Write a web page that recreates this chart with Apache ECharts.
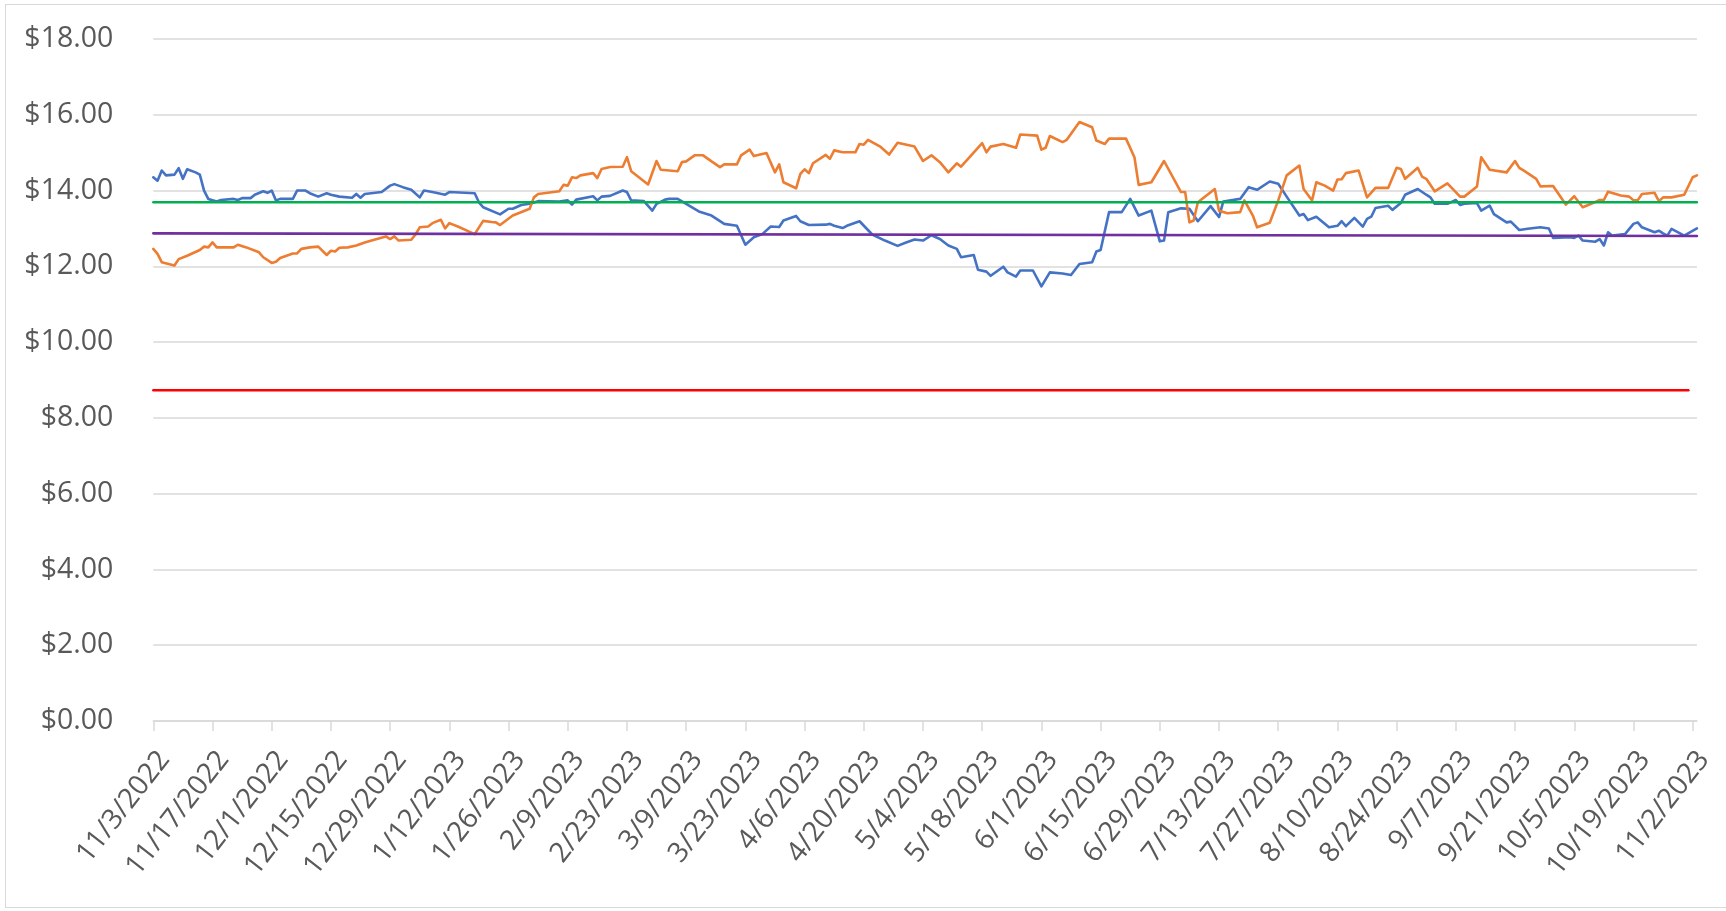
<!DOCTYPE html>
<html>
<head>
<meta charset="utf-8">
<script src="https://cdn.jsdelivr.net/npm/echarts@6/dist/echarts.min.js"></script>
<style>
  html, body { margin: 0; padding: 0; background: #fff; overflow: hidden; }
  #chart { width: 1726px; height: 911px; }
  #frame { position: absolute; left: 5px; top: 4px; width: 1740px; height: 904px;
           border: 1.5px solid #d9d9d9; box-sizing: border-box; pointer-events: none; }
</style>
</head>
<body>
<div id="chart"></div>
<div id="frame"></div>
<script>
// x values are days since 11/3/2022
const START_DATE = [2022, 11, 3];

const xTickLabels = ['11/3/2022','11/17/2022','12/1/2022','12/15/2022','12/29/2022','1/12/2023','1/26/2023',
  '2/9/2023','2/23/2023','3/9/2023','3/23/2023','4/6/2023','4/20/2023','5/4/2023','5/18/2023','6/1/2023',
  '6/15/2023','6/29/2023','7/13/2023','7/27/2023','8/10/2023','8/24/2023','9/7/2023','9/21/2023',
  '10/5/2023','10/19/2023','11/2/2023'];

const yTicks = [0, 2, 4, 6, 8, 10, 12, 14, 16, 18];

// Blue series: [day, price]
const blueSeries = [[0,14.35],[1,14.26],[2,14.53],[3,14.40],[5,14.42],[6,14.59],[7,14.31],[8,14.56],[10,14.48],[11,14.42],[12,14.0],[13,13.78],[15,13.71],[16,13.75],[19,13.78],[20,13.75],[21,13.80],[23,13.80],[24,13.89],[26,13.98],[27,13.94],[28,14.0],[29,13.74],[30,13.78],[33,13.78],[34,14.0],[36,14.0],[37,13.93],[39,13.84],[41,13.93],[42,13.89],[44,13.84],[47,13.81],[48,13.91],[49,13.81],[50,13.91],[54,13.96],[56,14.13],[57,14.17],[59,14.09],[61,14.02],[63,13.82],[64,14.0],[66,13.96],[69,13.89],[70,13.96],[76,13.93],[77,13.69],[78,13.56],[82,13.37],[84,13.52],[85,13.52],[87,13.62],[89,13.65],[91,13.72],[96,13.71],[98,13.74],[99,13.63],[100,13.76],[104,13.85],[105,13.74],[106,13.84],[108,13.86],[111,14.0],[112,13.96],[113,13.74],[116,13.72],[118,13.47],[119,13.65],[121,13.76],[122,13.78],[124,13.78],[126,13.65],[129,13.45],[132,13.34],[135,13.12],[138,13.07],[140,12.57],[142,12.77],[144,12.85],[146,13.05],[148,13.04],[149,13.21],[152,13.33],[153,13.19],[155,13.09],[159,13.10],[160,13.12],[161,13.07],[163,13.01],[164,13.07],[167,13.19],[170,12.84],[173,12.68],[176,12.54],[178,12.63],[180,12.71],[182,12.68],[184,12.82],[186,12.72],[188,12.55],[190,12.46],[191,12.24],[194,12.30],[195,11.91],[197,11.86],[198,11.75],[201,11.99],[202,11.84],[204,11.73],[205,11.89],[208,11.89],[210,11.47],[212,11.84],[215,11.81],[217,11.77],[219,12.06],[222,12.11],[223,12.39],[224,12.43],[226,13.43],[229,13.43],[231,13.78],[233,13.34],[236,13.47],[238,12.66],[239,12.68],[240,13.43],[243,13.53],[245,13.52],[247,13.19],[250,13.59],[252,13.30],[253,13.71],[257,13.78],[259,14.09],[261,14.02],[264,14.24],[266,14.18],[268,13.84],[271,13.34],[272,13.38],[273,13.22],[275,13.31],[278,13.03],[280,13.07],[281,13.19],[282,13.06],[284,13.28],[286,13.05],[287,13.25],[288,13.31],[289,13.54],[292,13.60],[293,13.49],[295,13.67],[296,13.89],[299,14.04],[301,13.89],[302,13.82],[303,13.65],[306,13.65],[308,13.75],[309,13.62],[310,13.65],[313,13.67],[314,13.47],[316,13.60],[317,13.38],[320,13.16],[321,13.18],[323,12.96],[325,12.99],[328,13.03],[330,13.0],[331,12.75],[335,12.77],[336,12.75],[337,12.81],[338,12.68],[341,12.65],[342,12.72],[343,12.55],[344,12.90],[345,12.81],[348,12.85],[350,13.12],[351,13.16],[352,13.03],[355,12.90],[356,12.94],[357,12.87],[358,12.81],[359,12.99],[362,12.81],[365,13.0]];

// Orange series: [day, price]
const orangeSeries = [[0,12.46],[1,12.33],[2,12.11],[5,12.02],[6,12.19],[8,12.28],[11,12.43],[12,12.52],[13,12.50],[14,12.63],[15,12.50],[19,12.50],[20,12.57],[22,12.50],[25,12.37],[26,12.24],[28,12.09],[29,12.12],[30,12.22],[33,12.34],[34,12.34],[35,12.46],[37,12.50],[39,12.52],[41,12.30],[42,12.41],[43,12.39],[44,12.49],[46,12.50],[48,12.55],[50,12.63],[51,12.66],[55,12.79],[56,12.72],[57,12.79],[58,12.68],[61,12.70],[62,12.84],[63,13.03],[65,13.05],[66,13.14],[68,13.23],[69,13.0],[70,13.14],[72,13.05],[76,12.85],[78,13.20],[80,13.17],[81,13.16],[82,13.09],[85,13.34],[89,13.52],[90,13.82],[91,13.91],[96,13.98],[97,14.15],[98,14.13],[99,14.35],[100,14.33],[101,14.40],[103,14.44],[104,14.46],[105,14.33],[106,14.57],[108,14.62],[111,14.63],[112,14.88],[113,14.51],[117,14.16],[119,14.78],[120,14.55],[122,14.53],[124,14.51],[125,14.75],[126,14.77],[128,14.93],[130,14.93],[132,14.77],[134,14.62],[135,14.69],[138,14.69],[139,14.93],[141,15.08],[142,14.91],[145,14.99],[147,14.48],[148,14.69],[149,14.22],[152,14.06],[153,14.44],[154,14.56],[155,14.46],[156,14.72],[159,14.94],[160,14.84],[161,15.06],[163,15.01],[166,15.01],[167,15.23],[168,15.21],[169,15.34],[172,15.15],[174,14.95],[176,15.26],[180,15.16],[182,14.78],[184,14.93],[186,14.75],[188,14.48],[190,14.72],[191,14.63],[196,15.25],[197,15.01],[198,15.16],[201,15.23],[204,15.13],[205,15.48],[209,15.45],[210,15.08],[211,15.13],[212,15.44],[215,15.28],[216,15.34],[219,15.81],[222,15.67],[223,15.32],[225,15.23],[226,15.37],[230,15.37],[232,14.88],[233,14.15],[236,14.22],[239,14.78],[243,13.96],[244,13.96],[245,13.16],[246,13.21],[247,13.69],[251,14.04],[252,13.47],[254,13.40],[257,13.43],[258,13.74],[260,13.34],[261,13.03],[264,13.15],[266,13.74],[268,14.40],[271,14.66],[272,14.04],[274,13.74],[275,14.22],[277,14.13],[279,14.0],[280,14.29],[281,14.30],[282,14.46],[285,14.53],[287,13.82],[289,14.07],[292,14.07],[294,14.60],[295,14.57],[296,14.31],[299,14.60],[300,14.37],[301,14.31],[303,13.98],[306,14.19],[309,13.84],[310,13.84],[313,14.11],[314,14.88],[316,14.55],[320,14.48],[322,14.78],[323,14.60],[324,14.53],[327,14.31],[328,14.11],[331,14.12],[334,13.63],[336,13.85],[338,13.56],[340,13.65],[342,13.75],[343,13.75],[344,13.97],[347,13.87],[349,13.84],[350,13.74],[351,13.74],[352,13.91],[355,13.94],[356,13.72],[357,13.82],[359,13.82],[362,13.89],[364,14.35],[365,14.40]];

// Reference lines: [day, price]
const greenLine  = [[0, 13.69], [365, 13.69]];
const purpleLine = [[0, 12.87], [365, 12.80]];
const redLine    = [[0, 8.73], [363, 8.73]];

function dayOf(label) {
  const p = label.split('/').map(Number);
  const s = new Date(START_DATE[0], START_DATE[1] - 1, START_DATE[2]);
  return Math.round((new Date(p[2], p[0] - 1, p[1]) - s) / 86400000);
}
function labelOf(day) {
  const dt = new Date(START_DATE[0], START_DATE[1] - 1, START_DATE[2] + Math.round(day));
  return (dt.getMonth() + 1) + '/' + dt.getDate() + '/' + dt.getFullYear();
}
const tickDays = xTickLabels.map(dayOf);
const lastDay = Math.max(blueSeries[blueSeries.length - 1][0], orangeSeries[orangeSeries.length - 1][0]);

const FONT = '"Open Sans", "Noto Sans", sans-serif';
const chart = echarts.init(document.getElementById('chart'), null, { renderer: 'canvas' });

function lineSeries(data, color, width) {
  return {
    type: 'line', data: data, showSymbol: false, symbol: 'none', animation: false,
    lineStyle: { color: color, width: width, cap: 'round', join: 'round' },
    emphasis: { disabled: true }
  };
}

chart.setOption({
  animation: false,
  grid: { left: 153.3, right: 29.1, top: 39, bottom: 190, containLabel: false },
  xAxis: {
    type: 'value', min: 0, max: lastDay,
    axisLine: { show: true, lineStyle: { color: '#d9d9d9', width: 1.5 } },
    axisTick: { show: true, length: 10, customValues: tickDays, lineStyle: { color: '#d9d9d9', width: 1.5 } },
    axisLabel: {
      customValues: tickDays, rotate: 52, margin: 25, verticalAlign: 'top',
      color: '#595959', fontFamily: FONT, fontSize: 28,
      formatter: function (v) { return labelOf(v); }
    },
    splitLine: { show: false }
  },
  yAxis: {
    type: 'value', min: yTicks[0], max: yTicks[yTicks.length - 1], interval: yTicks[1] - yTicks[0],
    axisLine: { show: false }, axisTick: { show: false },
    axisLabel: { margin: 40, color: '#595959', fontFamily: FONT, fontSize: 28.5,
      formatter: function (v) { return '$' + v.toFixed(2); } },
    splitLine: { lineStyle: { color: '#d9d9d9', width: 1.5 } }
  },
  series: [
    lineSeries(blueSeries, '#4472C4', 2.6),
    lineSeries(orangeSeries, '#ED7D31', 2.6),
    lineSeries(greenLine, '#00B050', 2.4),
    lineSeries(purpleLine, '#7030A0', 2.6),
    lineSeries(redLine, '#FF0000', 2.4)
  ]
});
</script>
</body>
</html>
